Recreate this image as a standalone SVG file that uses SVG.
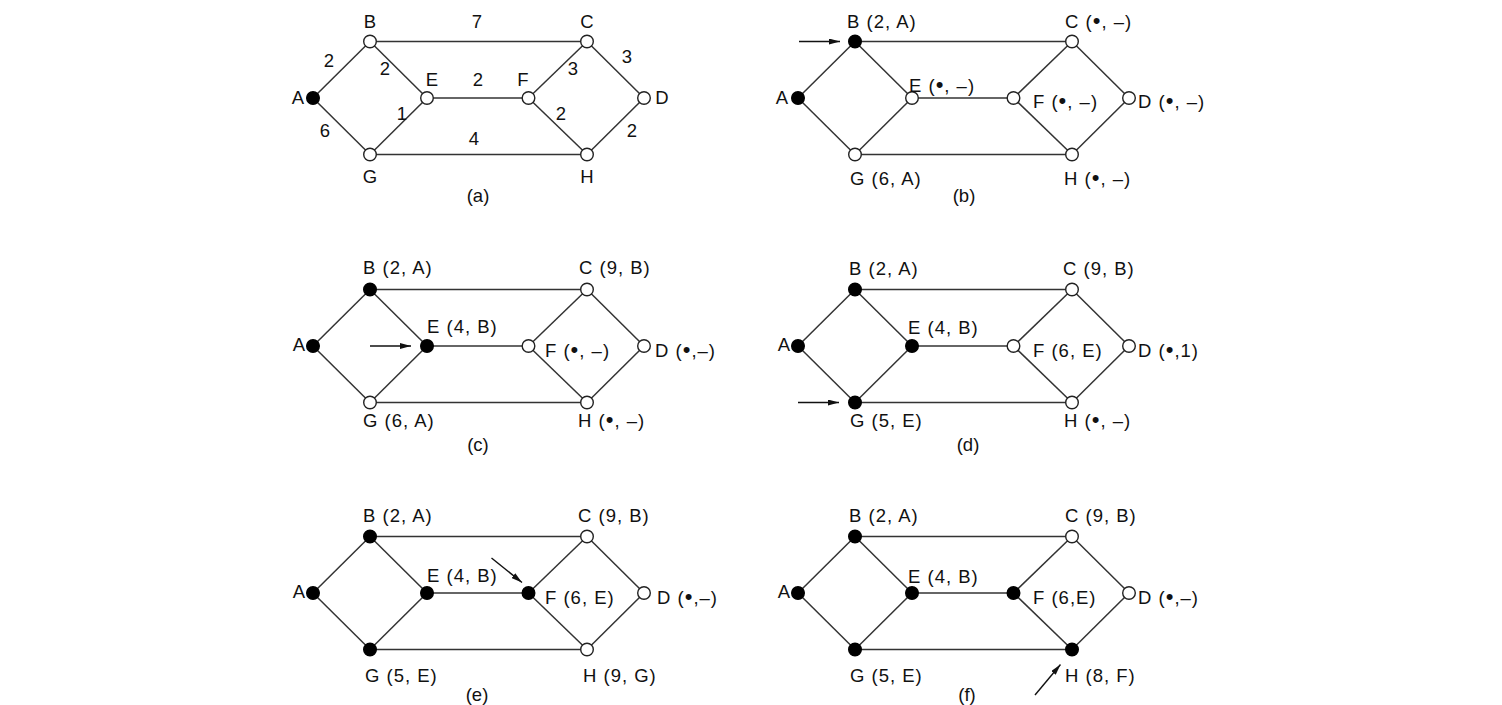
<svg xmlns="http://www.w3.org/2000/svg" width="1502" height="705" viewBox="0 0 1502 705">
<style>
  text { font-family: "Liberation Sans", Arial, sans-serif; font-size: 18.5px; fill: #111; }
  .l { letter-spacing: 1px; }
  .m { text-anchor: middle; }
  .b { font-size: 22px; }
  .e { stroke: #333; stroke-width: 1.5; fill: none; }
  .ar { stroke: #111; stroke-width: 1.4; fill: none; marker-end: url(#ah); }
  .o { fill: #fff; stroke: #222; stroke-width: 1.4; }
  .f { fill: #000; stroke: #000; stroke-width: 1.4; }
</style>
<defs>
  <marker id="ah" markerUnits="userSpaceOnUse" markerWidth="11" markerHeight="6" refX="11" refY="3" orient="auto">
    <path d="M0,0 L11,3 L0,6 Z" fill="#111"/>
  </marker>
  <g id="edges">
    <line x1="313" y1="98" x2="370" y2="41.5"/>
    <line x1="313" y1="98" x2="370" y2="154.5"/>
    <line x1="370" y1="41.5" x2="587" y2="41.5"/>
    <line x1="370" y1="41.5" x2="427" y2="98"/>
    <line x1="370" y1="154.5" x2="427" y2="98"/>
    <line x1="370" y1="154.5" x2="587" y2="154.5"/>
    <line x1="427" y1="98" x2="528.5" y2="98"/>
    <line x1="528.5" y1="98" x2="587" y2="41.5"/>
    <line x1="528.5" y1="98" x2="587" y2="154.5"/>
    <line x1="587" y1="41.5" x2="644" y2="98"/>
    <line x1="587" y1="154.5" x2="644" y2="98"/>
  </g>
</defs>

<!-- Panel (a) -->
<g id="panel-a">
  <g id="a-connectors" class="e"><use href="#edges"/></g>
  <g id="a-weights">
    <text class="m" x="477" y="28">7</text>
    <text class="m" x="329" y="67">2</text>
    <text class="m" x="385" y="75">2</text>
    <text class="m" x="478" y="86">2</text>
    <text class="m" x="573" y="75">3</text>
    <text class="m" x="627" y="63">3</text>
    <text class="m" x="402" y="120">1</text>
    <text class="m" x="561" y="120">2</text>
    <text class="m" x="325" y="137">6</text>
    <text class="m" x="474" y="145">4</text>
    <text class="m" x="632" y="137">2</text>
  </g>
  <g id="a-A"><circle class="f" cx="313" cy="98" r="6.3"/><text class="m" x="298" y="104">A</text></g>
  <g id="a-B"><circle class="o" cx="370" cy="41.5" r="6.3"/><text class="m" x="370" y="28">B</text></g>
  <g id="a-C"><circle class="o" cx="587" cy="41.5" r="6.3"/><text class="m" x="587" y="28">C</text></g>
  <g id="a-D"><circle class="o" cx="644" cy="98" r="6.3"/><text class="m" x="662" y="104">D</text></g>
  <g id="a-E"><circle class="o" cx="427" cy="98" r="6.3"/><text class="m" x="432" y="86">E</text></g>
  <g id="a-F"><circle class="o" cx="528.5" cy="98" r="6.3"/><text class="m" x="523" y="86">F</text></g>
  <g id="a-G"><circle class="o" cx="370" cy="154.5" r="6.3"/><text class="m" x="370" y="183">G</text></g>
  <g id="a-H"><circle class="o" cx="587" cy="154.5" r="6.3"/><text class="m" x="587" y="183">H</text></g>
  <text class="m" x="478" y="202">(a)</text>
</g>

<!-- Panel (b) -->
<g id="panel-b" transform="translate(485,0)">
  <g id="b-connectors">
    <g class="e"><use href="#edges"/></g>
    <line class="ar" x1="314" y1="41.5" x2="355" y2="41.5"/>
  </g>
  <g id="b-A"><circle class="f" cx="313" cy="98" r="6.3"/><text class="m" x="297" y="104">A</text></g>
  <g id="b-B"><circle class="f" cx="370" cy="41.5" r="6.3"/><text class="l" x="362" y="28">B (2, A)</text></g>
  <g id="b-C"><circle class="o" cx="587" cy="41.5" r="6.3"/><text class="l" x="580" y="28">C (<tspan class="b">•</tspan>, –)</text></g>
  <g id="b-D"><circle class="o" cx="644" cy="98" r="6.3"/><text class="l" x="653" y="108">D (<tspan class="b">•</tspan>, –)</text></g>
  <g id="b-E"><circle class="o" cx="427" cy="98" r="6.3"/><text class="l" x="424" y="92">E (<tspan class="b">•</tspan>, –)</text></g>
  <g id="b-F"><circle class="o" cx="528.5" cy="98" r="6.3"/><text class="l" x="548" y="108">F (<tspan class="b">•</tspan>, –)</text></g>
  <g id="b-G"><circle class="o" cx="370" cy="154.5" r="6.3"/><text class="l" x="365" y="185">G (6, A)</text></g>
  <g id="b-H"><circle class="o" cx="587" cy="154.5" r="6.3"/><text class="l" x="579" y="185">H (<tspan class="b">•</tspan>, –)</text></g>
  <text class="m" x="479" y="202">(b)</text>
</g>

<!-- Panel (c) -->
<g id="panel-c" transform="translate(0,248)">
  <g id="c-connectors">
    <g class="e"><use href="#edges"/></g>
    <line class="ar" x1="370" y1="98" x2="411" y2="98"/>
  </g>
  <g id="c-A"><circle class="f" cx="313" cy="98" r="6.3"/><text class="m" x="299" y="103">A</text></g>
  <g id="c-B"><circle class="f" cx="370" cy="41.5" r="6.3"/><text class="l" x="363" y="26">B (2, A)</text></g>
  <g id="c-C"><circle class="o" cx="587" cy="41.5" r="6.3"/><text class="l" x="579" y="26">C (9, B)</text></g>
  <g id="c-D"><circle class="o" cx="644" cy="98" r="6.3"/><text class="l" x="655" y="108.5">D (<tspan class="b">•</tspan>,–)</text></g>
  <g id="c-E"><circle class="f" cx="427" cy="98" r="6.3"/><text class="l" x="427" y="85">E (4, B)</text></g>
  <g id="c-F"><circle class="o" cx="528.5" cy="98" r="6.3"/><text class="l" x="545" y="108.5">F (<tspan class="b">•</tspan>, –)</text></g>
  <g id="c-G"><circle class="o" cx="370" cy="154.5" r="6.3"/><text class="l" x="363" y="178.5">G (6, A)</text></g>
  <g id="c-H"><circle class="o" cx="587" cy="154.5" r="6.3"/><text class="l" x="578" y="178.5">H (<tspan class="b">•</tspan>, –)</text></g>
  <text class="m" x="478" y="203">(c)</text>
</g>

<!-- Panel (d) -->
<g id="panel-d" transform="translate(485,248)">
  <g id="d-connectors">
    <g class="e"><use href="#edges"/></g>
    <line class="ar" x1="313" y1="154.5" x2="354" y2="154.5"/>
  </g>
  <g id="d-A"><circle class="f" cx="313" cy="98" r="6.3"/><text class="m" x="299" y="103">A</text></g>
  <g id="d-B"><circle class="f" cx="370" cy="41.5" r="6.3"/><text class="l" x="364" y="27">B (2, A)</text></g>
  <g id="d-C"><circle class="o" cx="587" cy="41.5" r="6.3"/><text class="l" x="578" y="27">C (9, B)</text></g>
  <g id="d-D"><circle class="o" cx="644" cy="98" r="6.3"/><text class="l" x="653" y="108.5">D (<tspan class="b">•</tspan>,1)</text></g>
  <g id="d-E"><circle class="f" cx="427" cy="98" r="6.3"/><text class="l" x="423" y="86">E (4, B)</text></g>
  <g id="d-F"><circle class="o" cx="528.5" cy="98" r="6.3"/><text class="l" x="548" y="108.5">F (6, E)</text></g>
  <g id="d-G"><circle class="f" cx="370" cy="154.5" r="6.3"/><text class="l" x="365" y="178.5">G (5, E)</text></g>
  <g id="d-H"><circle class="o" cx="587" cy="154.5" r="6.3"/><text class="l" x="579" y="178.5">H (<tspan class="b">•</tspan>, –)</text></g>
  <text class="m" x="483" y="203">(d)</text>
</g>

<!-- Panel (e) -->
<g id="panel-e" transform="translate(0,495)">
  <g id="e-connectors">
    <g class="e"><use href="#edges"/></g>
    <line class="ar" x1="491.5" y1="63" x2="522" y2="87.5"/>
  </g>
  <g id="e-A"><circle class="f" cx="313" cy="98" r="6.3"/><text class="m" x="299" y="103">A</text></g>
  <g id="e-B"><circle class="f" cx="370" cy="41.5" r="6.3"/><text class="l" x="363" y="26.5">B (2, A)</text></g>
  <g id="e-C"><circle class="o" cx="587" cy="41.5" r="6.3"/><text class="l" x="578" y="26.5">C (9, B)</text></g>
  <g id="e-D"><circle class="o" cx="644" cy="98" r="6.3"/><text class="l" x="657" y="108.5">D (<tspan class="b">•</tspan>,–)</text></g>
  <g id="e-E"><circle class="f" cx="427" cy="98" r="6.3"/><text class="l" x="427" y="87">E (4, B)</text></g>
  <g id="e-F"><circle class="f" cx="528.5" cy="98" r="6.3"/><text class="l" x="545" y="108.5">F (6, E)</text></g>
  <g id="e-G"><circle class="f" cx="370" cy="154.5" r="6.3"/><text class="l" x="365" y="186.5">G (5, E)</text></g>
  <g id="e-H"><circle class="o" cx="587" cy="154.5" r="6.3"/><text class="l" x="583" y="186.5">H (9, G)</text></g>
  <text class="m" x="477" y="206">(e)</text>
</g>

<!-- Panel (f) -->
<g id="panel-f" transform="translate(485,495)">
  <g id="f-connectors">
    <g class="e"><use href="#edges"/></g>
    <line class="ar" x1="550" y1="200" x2="575.5" y2="169.5"/>
  </g>
  <g id="f-A"><circle class="f" cx="313" cy="98" r="6.3"/><text class="m" x="299" y="103">A</text></g>
  <g id="f-B"><circle class="f" cx="370" cy="41.5" r="6.3"/><text class="l" x="364" y="26.5">B (2, A)</text></g>
  <g id="f-C"><circle class="o" cx="587" cy="41.5" r="6.3"/><text class="l" x="580" y="26.5">C (9, B)</text></g>
  <g id="f-D"><circle class="o" cx="644" cy="98" r="6.3"/><text class="l" x="653" y="108.5">D (<tspan class="b">•</tspan>,–)</text></g>
  <g id="f-E"><circle class="f" cx="427" cy="98" r="6.3"/><text class="l" x="423" y="88">E (4, B)</text></g>
  <g id="f-F"><circle class="f" cx="528.5" cy="98" r="6.3"/><text class="l" x="548" y="108.5">F (6,E)</text></g>
  <g id="f-G"><circle class="f" cx="370" cy="154.5" r="6.3"/><text class="l" x="365" y="186.5">G (5, E)</text></g>
  <g id="f-H"><circle class="f" cx="587" cy="154.5" r="6.3"/><text class="l" x="580" y="186.5">H (8, F)</text></g>
  <text class="m" x="482" y="206">(f)</text>
</g>
</svg>
